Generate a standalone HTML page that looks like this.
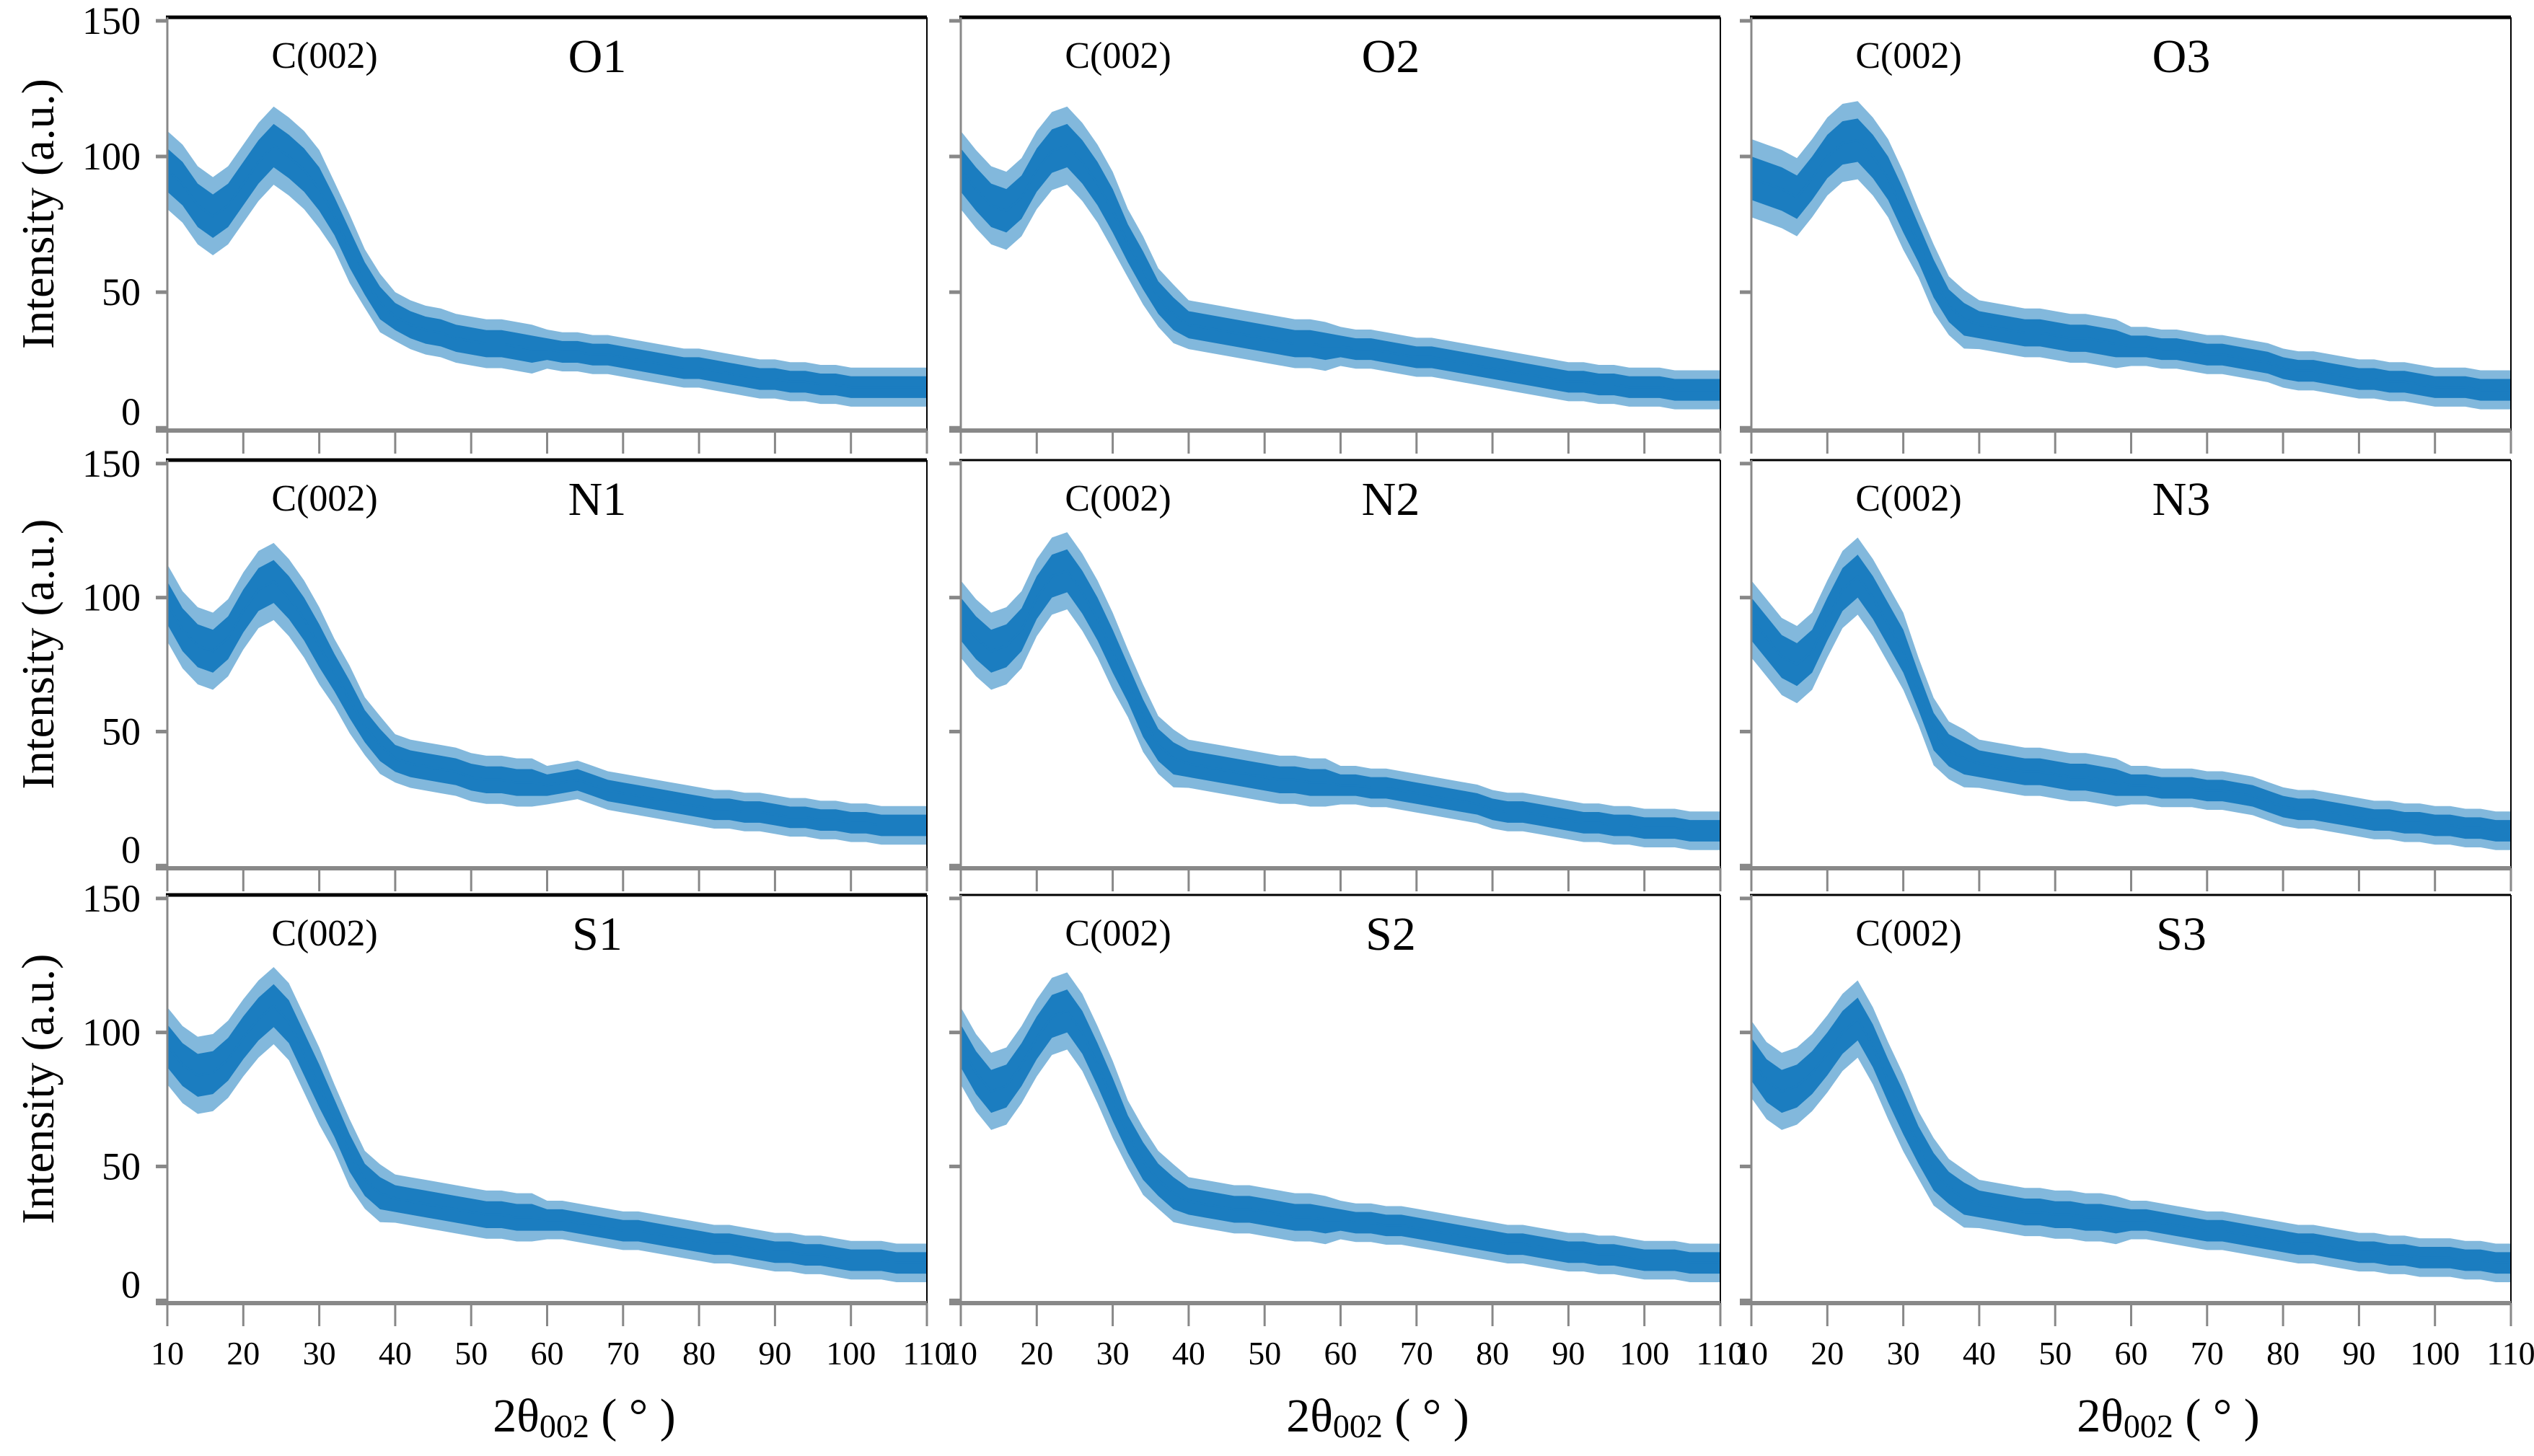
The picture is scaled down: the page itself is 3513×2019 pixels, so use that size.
<!DOCTYPE html>
<html><head><meta charset="utf-8"><style>
html,body{margin:0;padding:0;background:#fff;}
svg{display:block;}
svg text{font-family:"Liberation Serif","DejaVu Serif",serif;}
</style></head><body>
<svg id="chart" width="3513" height="2019" viewBox="0 0 3513 2019" xmlns="http://www.w3.org/2000/svg" font-family="Liberation Serif, DejaVu Serif, serif"></svg>
<script>
const twoTheta = [10,12,14,16,18,20,22,24,26,28,30,32,34,36,38,40,42,44,46,48,50,52,54,56,58,60,62,64,66,68,70,72,74,76,78,80,82,84,86,88,90,92,94,96,98,100,102,104,106,108,110];
const sampleNames = ["O1","O2","O3","N1","N2","N3","S1","S2","S3"];
const seriesO1 = [95,90,82,78,82,90,98,104,100,95,88,78,66,55,46,41,38,36,35,33,32,31,31,30,29,29,28,28,27,27,26,25,24,23,22,22,21,20,19,18,18,17,17,16,16,15,15,15,15,15,15];
const seriesO2 = [95,88,82,80,85,95,102,104,98,90,80,68,58,48,42,38,37,36,35,34,33,32,31,31,30,30,29,29,28,27,26,26,25,24,23,22,21,20,19,18,17,17,16,16,15,15,15,14,14,14,14];
const seriesO3 = [92,90,88,85,92,100,105,106,100,92,80,68,55,45,40,38,37,36,35,35,34,33,33,32,31,30,30,29,29,28,27,27,26,25,24,22,21,21,20,19,18,18,17,17,16,15,15,15,14,14,14];
const seriesN1 = [98,88,82,80,85,95,103,106,100,92,82,72,62,52,45,40,38,37,36,35,33,32,32,31,31,30,31,32,30,28,27,26,25,24,23,22,21,21,20,20,19,18,18,17,17,16,16,15,15,15,15];
const seriesN2 = [92,85,80,82,88,100,108,110,102,92,80,68,55,45,40,38,37,36,35,34,33,32,32,31,31,30,30,29,29,28,27,26,25,24,23,21,20,20,19,18,17,16,16,15,15,14,14,14,13,13,13];
const seriesN3 = [92,85,78,75,80,92,103,108,100,90,80,65,50,43,40,38,37,36,35,35,34,33,33,32,31,30,30,29,29,29,28,28,27,26,24,22,21,21,20,19,18,17,17,16,16,15,15,14,14,13,13];
const seriesS1 = [95,88,84,85,90,98,105,110,104,92,80,68,55,45,40,38,37,36,35,34,33,32,32,31,31,30,30,29,28,27,26,26,25,24,23,22,21,21,20,19,18,18,17,17,16,15,15,15,14,14,14];
const seriesS2 = [95,85,78,80,88,98,106,108,100,88,75,62,52,45,40,37,36,35,34,34,33,32,31,31,30,30,29,29,28,28,27,26,25,24,23,22,21,21,20,19,18,18,17,17,16,15,15,15,14,14,14];
const seriesS3 = [90,82,78,80,85,92,100,105,95,82,70,58,48,42,38,36,35,34,33,33,32,32,31,31,30,30,30,29,28,27,26,26,25,24,23,22,21,21,20,19,18,18,17,17,16,16,16,15,15,14,14];
const noiseHalfWidth = [8,8,8,8,8,8,8,8,8,8,8,7,7,6,6,5,5,5,5,5,5,5,5,5,5,4,4,4,4,4,4,4,4,4,4,4,4,4,4,4,4,4,4,4,4,4,4,4,4,4,4];
const xTickLabels = ["10","20","30","40","50","60","70","80","90","100","110"];
const yTickLabels = ["0","50","100","150"];
const allSeries = [seriesO1,seriesO2,seriesO3,seriesN1,seriesN2,seriesN3,seriesS1,seriesS2,seriesS3];

const NS = "http://www.w3.org/2000/svg";
const svg = document.getElementById("chart");
const colL = [232,1332,2428], W = 1053;
const rowT = [24,638,1241], rowB = [597,1204,1807];
const X0=10, X1=110, Y0=-1, Y1=151.3;
const BLUE = "#1b7dc0";
const FF = "Liberation Serif, DejaVu Serif, serif";
function mk(tag, attrs, parent){const e=document.createElementNS(NS,tag);for(const k in attrs)e.setAttribute(k,attrs[k]);if(tag==="text")e.setAttribute("font-family",FF);(parent||svg).appendChild(e);return e;}

for (let p=0;p<9;p++){
  const c=p%3, r=Math.floor(p/3);
  const L=colL[c], T=rowT[r], B=rowB[r];
  const sx = v => L + (v-X0)/(X1-X0)*W;
  const sy = v => B - (v-Y0)/(Y1-Y0)*(B-T);
  const g = mk("g",{});
  
  
  const s = allSeries[p];
  let up="", lo="";
  for (let i=0;i<twoTheta.length;i++){ up += sx(twoTheta[i])+","+sy(s[i]+noiseHalfWidth[i]*1.8)+" "; }
  for (let i=twoTheta.length-1;i>=0;i--){ lo += sx(twoTheta[i])+","+sy(s[i]-noiseHalfWidth[i]*1.8)+" "; }
  const fr = mk("polygon",{points:up+lo,fill:BLUE,"fill-opacity":"0.55"},g);
  
  
  up=""; lo="";
  for (let i=0;i<twoTheta.length;i++){ up += sx(twoTheta[i])+","+sy(s[i]+noiseHalfWidth[i])+" "; }
  for (let i=twoTheta.length-1;i>=0;i--){ lo += sx(twoTheta[i])+","+sy(s[i]-noiseHalfWidth[i])+" "; }
  const band = mk("polygon",{points:up+lo,fill:BLUE},g);
  
  
  let d="";
  for (let i=0;i<twoTheta.length;i++){ d += (i?"L":"M")+sx(twoTheta[i])+","+sy(s[i]); }
  const ln = mk("path",{d:d,fill:"none",stroke:BLUE,"stroke-width":"3"},g);
  
  
  const top = mk("line",{x1:L-2,y1:T,x2:L+W,y2:T,stroke:"#000","stroke-width":(r===0||c===0)?"5":"3"},g);
  
  
  const rt = mk("line",{x1:L+W,y1:T,x2:L+W,y2:B,stroke:"#000","stroke-width":"2"},g);
  
  
  const ya = mk("line",{x1:L,y1:T,x2:L,y2:B+30,stroke:"#888","stroke-width":"3"},g);
  
  
  const xa = mk("line",{x1:L-16,y1:B,x2:L+W,y2:B,stroke:"#888","stroke-width":"6"},g);
  
  
  for (let k=0;k<xTickLabels.length;k++){
    const v = +xTickLabels[k];
    const t = mk("line",{x1:sx(v),y1:B,x2:sx(v),y2:B+32,stroke:"#888","stroke-width":"3"},g);
    
    
    if (r===2){
      const tl = mk("text",{x:sx(v),y:1892,"font-size":"46","text-anchor":"middle",fill:"#000"},g);
      tl.textContent = xTickLabels[k];
      
      
    }
  }
  for (let k=0;k<yTickLabels.length;k++){
    const v = +yTickLabels[k];
    const t = mk("line",{x1:L-16,y1:sy(v),x2:L,y2:sy(v),stroke:"#888","stroke-width":"5"},g);
    
    
    if (c===0){
      const tl = mk("text",{x:195,y:sy(v)+(v===0?-4:18),"font-size":"54","text-anchor":"end",fill:"#000"},g);
      tl.textContent = yTickLabels[k];
      
      
    }
  }
  const cl = mk("text",{x:L+218,y:T+70,"font-size":"52","text-anchor":"middle",fill:"#000"},g);
  cl.textContent = "C(002)";
  
  
  const nl = mk("text",{x:L+596,y:T+76,"font-size":"66","text-anchor":"middle",fill:"#000"},g);
  nl.textContent = sampleNames[p];
  
  
  if (c===0){
    const cy = (T+B)/2 - 14;
    const yt = mk("text",{x:0,y:0,"font-size":"64","text-anchor":"middle",fill:"#000",transform:"translate(74,"+cy+") rotate(-90)"},g);
    yt.textContent = "Intensity (a.u.)";
    
    
  }
  if (r===2){
    const xt = mk("text",{x:L+578,y:1985,"font-size":"66","text-anchor":"middle",fill:"#000"},g);
    
    
    const a = mk("tspan",{},xt); a.textContent="2θ";
    const b = mk("tspan",{"font-size":"46",dy:"8"},xt); b.textContent="002";
    const d2 = mk("tspan",{dy:"-8"},xt); d2.textContent=" ( ° )";
  }
}
</script>
</body></html>
